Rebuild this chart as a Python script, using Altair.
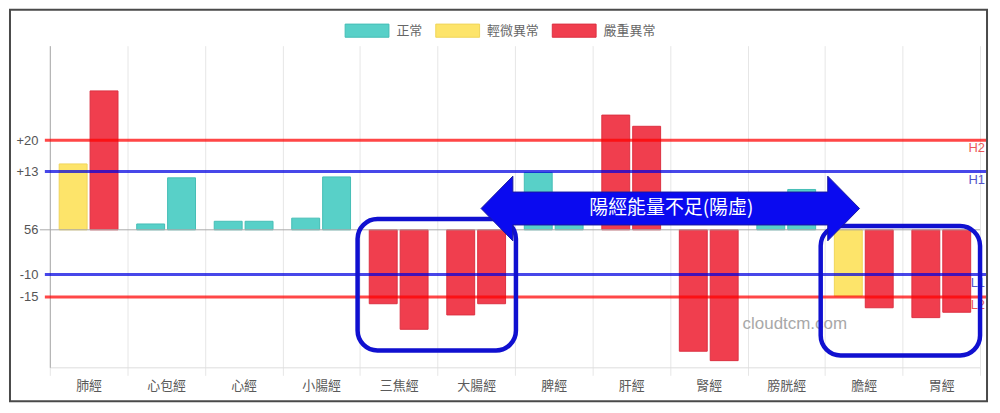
import altair as alt
import pandas as pd

# ---------------- data ----------------
categories = ["肺經", "心包經", "心經", "小腸經", "三焦經", "大腸經",
              "脾經", "肝經", "腎經", "膀胱經", "膽經", "胃經"]
left_values = [14.7, 1.3, 1.9, 2.6, -16.5, -19.0, 12.8, 25.6, -27.1, 6.0, -14.8, -19.6]
right_values = [31.0, 11.6, 1.9, 11.8, -22.2, -16.5, 6.0, 23.1, -29.2, 9.0, -17.4, -18.4]
left_status = ["輕微異常", "正常", "正常", "正常", "嚴重異常", "嚴重異常",
               "正常", "嚴重異常", "嚴重異常", "正常", "輕微異常", "嚴重異常"]
right_status = ["嚴重異常", "正常", "正常", "正常", "嚴重異常", "嚴重異常",
                "正常", "嚴重異常", "嚴重異常", "正常", "嚴重異常", "嚴重異常"]
status_order = ["正常", "輕微異常", "嚴重異常"]

threshold_names = ["H2", "H1", "L1", "L2"]
threshold_values = [20, 13, -10, -15]
threshold_level = ["嚴重", "輕微", "輕微", "嚴重"]

y_tick_values = [20, 13, 0, -10, -15]
zero_label = "56"
y_domain = [-30.7, 41.1]
arrow_text = "陽經能量不足(陽虛)"
watermark_text = "cloudtcm.com"

# ---------------- tables ----------------
bars_df = pd.DataFrame({
    "經絡": categories * 2,
    "side": ["L"] * len(categories) + ["R"] * len(categories),
    "value": left_values + right_values,
    "status": left_status + right_status,
})
th_df = pd.DataFrame({"name": threshold_names, "value": threshold_values,
                      "level": threshold_level})
one = pd.DataFrame({"t": [arrow_text]})

W, H = 934, 323
FONT = "Liberation Sans, Noto Sans CJK TC, sans-serif"
CJK = "Noto Sans CJK TC, sans-serif"

fill_colors = ["#58d0c8", "#fde46a", "#f03e4e"]
stroke_colors = ["#45bdb5", "#f0d55a", "#dc3042"]

legend = alt.Legend(
    orient="none", legendX=296, legendY=-38, direction="horizontal", title=None,
    symbolType="M-1,-0.3L1,-0.3L1,0.3L-1,0.3Z", symbolSize=1936,
    symbolStrokeWidth=1, labelFontSize=13, labelColor="#666", labelFont=CJK,
    labelOffset=7, columnPadding=10, padding=0,
)

bars = alt.Chart(bars_df).mark_bar(strokeWidth=1).encode(
    x=alt.X("經絡:N", sort=categories, title=None,
            scale=alt.Scale(paddingInner=0, paddingOuter=0),
            axis=alt.Axis(labelAngle=0, tickBand="extent", grid=True,
                          gridColor="#e6e6e6", tickColor="#e6e6e6", tickSize=8,
                          domainColor="#dddddd", labelFontSize=13, labelColor="#5a5a5a",
                          labelFont=CJK, labelPadding=4)),
    xOffset=alt.XOffset("side:N", sort=["L", "R"],
                        scale=alt.Scale(paddingInner=0.097, paddingOuter=0.303)),
    y=alt.Y("value:Q", title=None,
            scale=alt.Scale(domain=y_domain, nice=False, zero=False),
            axis=alt.Axis(values=y_tick_values, ticks=False, grid=False,
                          domainColor="#aaaaaa", labelFontSize=13, labelColor="#555",
                          labelFont=FONT, labelPadding=12,
                          labelExpr=(f"datum.value == 0 ? '{zero_label}' : "
                                     "(datum.value > 0 ? '+' + toString(datum.value) : toString(datum.value))"))),
    color=alt.Color("status:N", scale=alt.Scale(domain=status_order, range=fill_colors),
                    legend=legend),
    stroke=alt.Stroke("status:N", scale=alt.Scale(domain=status_order, range=stroke_colors),
                      legend=legend),
)

zero_rule = alt.Chart(one).mark_rule(color="#aaaaaa", strokeWidth=1).encode(
    y=alt.datum(0), x=alt.value(-10), x2=alt.value(W))

rules = alt.Chart(th_df).mark_rule(strokeWidth=3, opacity=0.72).encode(
    y="value:Q", x=alt.value(-5), x2=alt.value(W + 6),
    color=alt.condition("datum.level == '嚴重'", alt.value("#ff0000"), alt.value("#0000e0")),
)

rule_labels = alt.Chart(th_df).mark_text(align="right", baseline="middle", dy=8,
                                         fontSize=13, font=FONT, opacity=0.8).encode(
    y="value:Q", x=alt.value(W + 5), text="name:N",
    color=alt.condition("datum.level == '嚴重'", alt.value("#e83030"), alt.value("#2a2ac0")),
)

watermark = alt.Chart(one).mark_text(text=watermark_text, fontSize=17, font=FONT,
                                     color="#999999", opacity=0.85).encode(
    x=alt.value(748), y=alt.value(279))


def box(x1, x2, y1, y2):
    return alt.Chart(one).mark_rect(cornerRadius=20, fill="transparent",
                                    stroke="#1010d0", strokeWidth=4.5).encode(
        x=alt.value(x1), x2=alt.value(x2), y=alt.value(y1), y2=alt.value(y2))


box1 = box(309, 468, 174, 306)
box2 = box(774, 934, 181, 311)

arrow_path = ("M-1,0L-0.832,-0.171L-0.832,-0.087L0.832,-0.087L0.832,-0.171L1,0"
              "L0.832,0.171L0.832,0.087L-0.832,0.087L-0.832,0.171Z")
arrow = alt.Chart(one).mark_point(shape=arrow_path, size=144400, filled=True,
                                  fill="#0a0af0", stroke="#1818a0", strokeWidth=1,
                                  opacity=1).encode(
    x=alt.value(623), y=alt.value(163.5))

arrow_label = alt.Chart(one).mark_text(fontSize=19, font=CJK, color="white").encode(
    x=alt.value(624), y=alt.value(163), text="t:N")

frame = alt.Chart(one).mark_rect(fill="transparent", stroke="#4a4a4a", strokeWidth=2).encode(
    x=alt.value(-40), x2=alt.value(941), y=alt.value(-36), y2=alt.value(357))

chart = alt.layer(
    bars, zero_rule, rules, rule_labels, watermark, box1, box2, arrow, arrow_label, frame
).properties(
    width=W, height=H,
    autosize=alt.AutoSizeParams(type="none"),
    padding={"left": 42, "top": 37, "right": 12, "bottom": 40},
).configure_view(strokeWidth=0)

chart.save("out.html", embed_options={"renderer": "svg", "actions": False})
